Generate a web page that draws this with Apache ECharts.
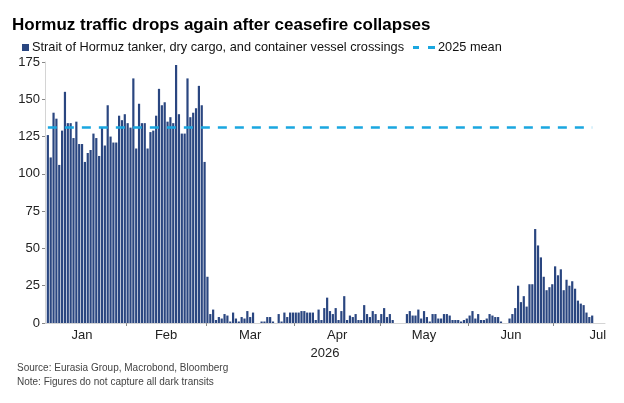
<!DOCTYPE html>
<html>
<head>
<meta charset="utf-8">
<script src="https://cdn.jsdelivr.net/npm/echarts@6/dist/echarts.min.js"></script>
<style>
  html, body { margin: 0; padding: 0; background: #fff; }
  #chart { width: 624px; height: 403px; }
</style>
</head>
<body>
<div id="chart"></div>
<script>
// daily crossings, first bar is 4 Jan 2026
const firstDay = Date.UTC(2026, 0, 4);
const janValues = [126, 111, 141, 137, 106, 129, 155, 134, 134, 124, 135, 120, 120, 108,
  114, 116, 127, 124, 112, 131, 119, 146, 125, 121, 121, 139, 136, 140];
const febValues = [134, 131, 164, 117, 147, 134, 134, 117, 128, 129, 139, 157, 146, 148,
  135, 138, 134, 173, 140, 127, 127, 164, 138, 141, 144, 159, 146, 108];
const marValues = [31, 6, 9, 2, 4, 3, 6, 5, 1, 7, 3, 1, 4, 3, 8, 4, 7, 0, 0, 1, 1, 4, 4, 1,
  0, 6, 1, 7, 4, 7, 7];
const aprValues = [7, 7, 8, 8, 7, 7, 7, 2, 9, 2, 10, 17, 8, 6, 10, 2, 8, 18, 2, 5, 4, 6, 2,
  2, 12, 6, 4, 8, 6, 2];
const mayValues = [6, 10, 4, 6, 2, 0, 0, 0, 0, 6, 8, 5, 5, 9, 3, 8, 4, 1, 6, 6, 3, 3, 6, 6,
  5, 2, 2, 2, 1, 2, 3];
const junValues = [5, 8, 3, 6, 2, 2, 3, 6, 5, 4, 4, 1, 0, 0, 3, 6, 10, 25, 14, 18, 11, 26,
  26, 63, 52, 44, 31, 22, 24, 26];
const julValues = [38, 32, 36, 22, 29, 25, 28, 23, 15, 13, 12, 7, 4, 5];
const mean2025 = 131;

const monthLabels = ['Jan', 'Feb', 'Mar', 'Apr', 'May', 'Jun', 'Jul'];
const yTicks = [0, 25, 50, 75, 100, 125, 150, 175];

const barName = 'Strait of Hormuz tanker, dry cargo, and container vessel crossings';
const meanName = '2025 mean';

// x is measured in days since 1 Jan 2026
const DAY = 86400000;
const yearStart = Date.UTC(2026, 0, 1);
const dayOf = t => (t - yearStart) / DAY;
const values = [].concat(janValues, febValues, marValues, aprValues, mayValues, junValues, julValues);
const firstX = dayOf(firstDay) + 0.5;
const barData = values.map((v, i) => [firstX + i, v]);
const meanData = [[barData[0][0], mean2025], [barData[barData.length - 1][0], mean2025]];

// month boundaries get ticks, month middles get the labels
const tickDays = [];
const labelDays = [];
for (let m = 0; m < monthLabels.length; m++) {
  const s = dayOf(Date.UTC(2026, m, 1)), e = dayOf(Date.UTC(2026, m + 1, 1));
  if (m > 0) tickDays.push(s);
  labelDays.push((s + e) / 2);
}

const font = 'Liberation Sans, Arial, sans-serif';
const chart = echarts.init(document.getElementById('chart'));
chart.setOption({
  animation: false,
  backgroundColor: '#fff',
  textStyle: { fontFamily: font },
  title: [
    {
      text: 'Hormuz traffic drops again after ceasefire collapses',
      left: 7, top: 12,
      textStyle: { fontSize: 17, fontWeight: 'bold', color: '#000', fontFamily: font }
    },
    {
      text: 'Source: Eurasia Group, Macrobond, Bloomberg\nNote: Figures do not capture all dark transits',
      left: 12, top: 356,
      textStyle: { fontSize: 10, fontWeight: 'normal', color: '#444', lineHeight: 14, fontFamily: font }
    }
  ],
  legend: [
    {
      data: [barName], left: 17, top: 36, icon: 'rect',
      itemWidth: 7, itemHeight: 7, itemGap: 4,
      textStyle: { fontSize: 12.75, color: '#111', padding: [0, 0, 0, -2] }
    },
    {
      data: [meanName], left: 408, top: 36,
      icon: 'path://M0,0h6v3h-6z M15,0h7v3h-7z',
      itemWidth: 22, itemHeight: 3, itemGap: 4,
      textStyle: { fontSize: 12.75, color: '#111', padding: [0, 0, 0, -2] }
    }
  ],
  grid: { left: 45, right: 19, top: 62, bottom: 80 },
  xAxis: {
    type: 'value',
    min: dayOf(Date.UTC(2026, 0, 3, 12)),
    max: dayOf(Date.UTC(2026, 6, 19)),
    name: '2026',
    nameLocation: 'middle',
    nameGap: 23,
    nameTextStyle: { fontSize: 13, color: '#222' },
    axisLine: { lineStyle: { color: '#d4d4d4' } },
    axisTick: { show: true, customValues: tickDays, length: 3, lineStyle: { color: '#888' } },
    axisLabel: {
      customValues: labelDays,
      formatter: v => monthLabels[labelDays.indexOf(v)] || '',
      fontSize: 13, color: '#222', margin: 6
    },
    splitLine: { show: false }
  },
  yAxis: {
    type: 'value',
    min: 0, max: 175, interval: 25,
    axisLine: { show: true, lineStyle: { color: '#d4d4d4' } },
    axisTick: { show: true, length: 3, lineStyle: { color: '#888' } },
    axisLabel: { customValues: yTicks, fontSize: 13, color: '#222', margin: 5 },
    splitLine: { show: false }
  },
  series: [
    {
      name: barName,
      type: 'bar',
      data: barData,
      barWidth: 2.2,
      itemStyle: { color: '#2a4680' }
    },
    {
      name: meanName,
      type: 'line',
      data: meanData,
      symbol: 'none',
      z: 5,
      lineStyle: { color: '#1aa7e0', width: 2.5, type: [9, 8] },
      itemStyle: { color: '#1aa7e0' }
    }
  ]
});
</script>
</body>
</html>
